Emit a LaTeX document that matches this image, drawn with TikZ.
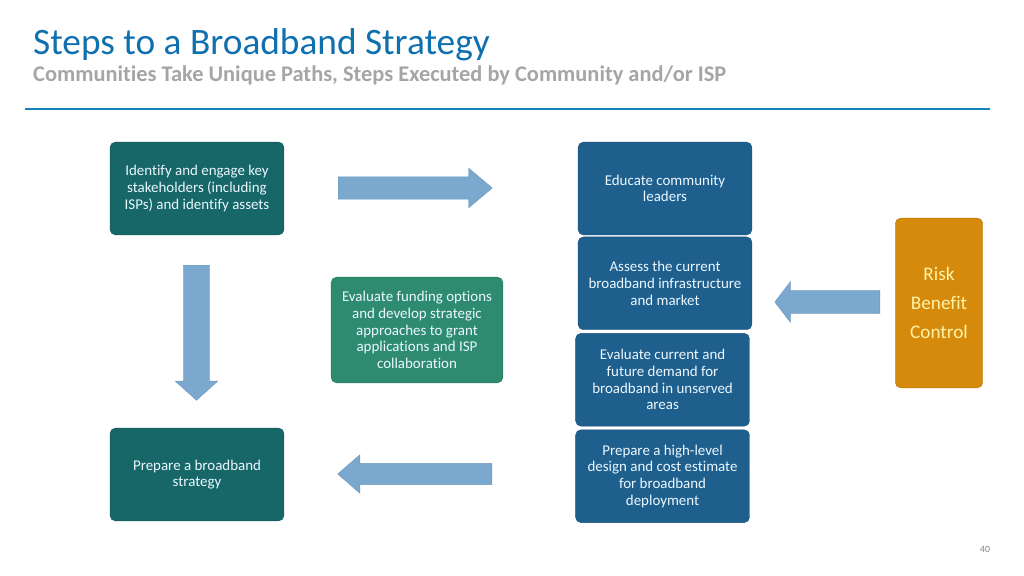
\documentclass[tikz,border=0pt]{standalone}
\usepackage{fontspec}
\setmainfont{Carlito}[Ligatures=NoCommon]
\usetikzlibrary{positioning,shapes.arrows}

\definecolor{titleblue}{HTML}{0F70AF}
\definecolor{subgray}{HTML}{A5A5A5}
\definecolor{rulecol}{HTML}{1483B8}
\definecolor{tealbox}{HTML}{176769}
\definecolor{bluebox}{HTML}{1F5F8E}
\definecolor{greenbox}{HTML}{2E8B70}
\definecolor{orangebox}{HTML}{D68A0C}
\definecolor{arrowblue}{HTML}{7AA8CF}
\definecolor{risktext}{HTML}{FFF3A6}

\tikzset{
  stepbox/.style={rounded corners=5pt, minimum width=163pt, minimum height=87pt,
    align=center, text=white!92!cyan, font=\fontsize{14}{15.6}\selectfont,
    draw=#1!85!black, fill=#1},
  blockarrow/.style={single arrow, anchor=tail, fill=arrowblue, draw=arrowblue!90!black,
    thin, inner xsep=0pt, text height=0pt, text depth=0pt}
}

\begin{document}
\begin{tikzpicture}[x=0.9375pt, y=-0.9375pt]
  \useasboundingbox (0,0) rectangle (1024,576);

  % title block
  \node (title) [anchor=base west, inner sep=0pt, text=titleblue,
    font=\fontsize{35}{40}\selectfont] at (33,55) {Steps to a Broadband Strategy};
  \node (subtitle) [anchor=base west, inner sep=0pt, text=subgray,
    font=\bfseries\fontsize{21}{24}\selectfont] at (33,82)
    {Communities Take Unique Paths, Steps Executed by Community and/or ISP};
  \coordinate (ruleL) at (25,109);
  \coordinate (ruleR) at (990,109);
  \draw[rulecol, line width=2.6pt] (ruleL) -- (ruleR);

  % steps
  \node (identify) [stepbox=tealbox] at (197,188.5)
    {Identify and engage key\\stakeholders (including\\ISPs) and identify assets};
  \node (educate) [stepbox=bluebox] at (665,188.5) {Educate community\\leaders};
  \node (assess) [stepbox=bluebox, below=1.5pt of educate]
    {Assess the current\\broadband infrastructure\\and market};
  \node (demand) [stepbox=bluebox, below=3pt of assess, xshift=-2.3pt]
    {Evaluate current and\\future demand for\\broadband in unserved\\areas};
  \node (design) [stepbox=bluebox, below=3pt of demand]
    {Prepare a high-level\\design and cost estimate\\for broadband\\deployment};
  \node (funding) [stepbox=greenbox, minimum width=161pt, minimum height=99pt]
    at (417,330)
    {Evaluate funding options\\and develop strategic\\approaches to grant\\applications and ISP\\collaboration};
  \node (strategy) [stepbox=tealbox] at (197,474.5) {Prepare a broadband\\strategy};
  \node (risk) [stepbox=orangebox, minimum width=82pt, minimum height=159pt,
    text=risktext, font=\fontsize{18}{27}\selectfont] at (939,303)
    {Risk\\Benefit\\Control};

  % block arrows
  \node (arrRight) [blockarrow, minimum height=144.4pt, inner ysep=10.3pt,
    single arrow head extend=8pt, single arrow tip angle=80] at (338,188) {};
  \node (arrDown) [blockarrow, rotate=-90, minimum height=126.6pt, inner ysep=12.2pt,
    single arrow head extend=7.5pt, single arrow tip angle=96] at (196.5,265) {};
  \node (arrRisk) [blockarrow, rotate=180, minimum height=98.4pt, inner ysep=10.8pt,
    single arrow head extend=8pt, single arrow tip angle=105] at (880,302) {};
  \node (arrBack) [blockarrow, rotate=180, minimum height=144.4pt, inner ysep=9.8pt,
    single arrow head extend=8pt, single arrow tip angle=82] at (492,474) {};

  % page number
  \node (pagenum) [text=gray, font=\fontsize{9}{10}\selectfont] at (985,549) {40};
\end{tikzpicture}
\end{document}
